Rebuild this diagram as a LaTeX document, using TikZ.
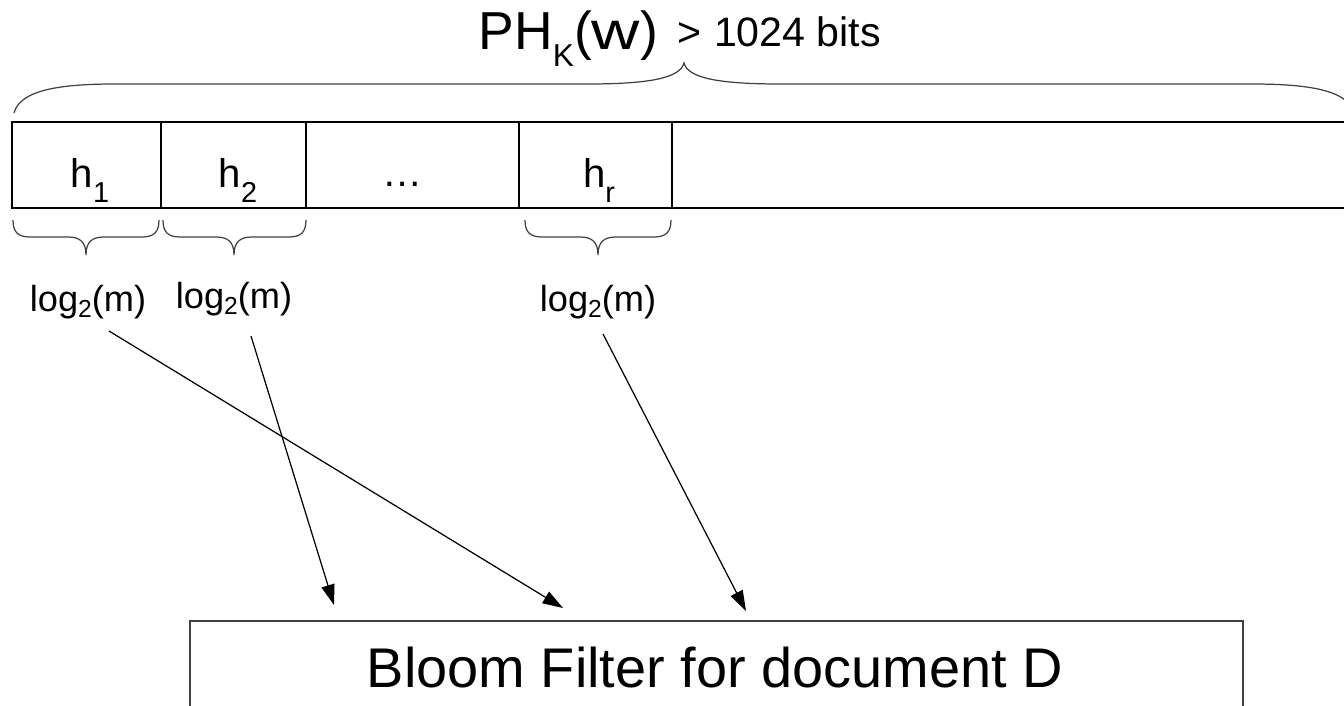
\documentclass[tikz,border=0pt]{standalone}
\usepackage{fontspec}
\setmainfont{Liberation Sans}
\usetikzlibrary{arrows.meta}
\newcommand\fsz[1]{\fontsize{#1}{#1}\selectfont}
\newcommand\lowsub[3]{\raisebox{-#2}{\fsz{#1}#3}}
\tikzset{
  cell/.style={draw=black, line width=0.5pt, minimum height=0.86cm, inner sep=0pt, outer sep=0pt},
  hlab/.style={anchor=base, inner sep=0pt, font=\fsz{11.4pt}},
  loglab/.style={anchor=base, inner sep=0pt, font=\fsz{10.3pt}},
  brc/.style={draw=black!75, line width=0.35pt},
  arr/.style={draw=black, line width=0.35pt, -{Triangle[length=5.8pt,width=3.8pt]}},
  bloombox/.style={draw=black!75, line width=0.55pt, minimum width=10.52cm, minimum height=1.6cm, inner sep=0pt, outer sep=0pt}
}
\begin{document}
\begin{tikzpicture}[x=0.01cm,y=-0.01cm]
\useasboundingbox (0,0) rectangle (1344,706);
\clip (0,0) rectangle (1344,706);
% title
\node[anchor=base west, inner sep=0pt, font=\fsz{15.2pt}] (title) at (478,50) {PH\lowsub{9pt}{4.8pt}{K}(\scalebox{1.25}[1]{w})};
\node[anchor=base west, inner sep=0pt, font=\fsz{11.7pt}] (bits) at (677,46) {>\hspace{0.3em}1024 bits};
% big brace
\draw[brc] (14,113) .. controls (20,90) and (60,84) .. (115,84) -- (587,84)
  .. controls (650,84) and (680,78) .. (684,63)
  .. controls (688,78) and (718,84) .. (781,84) -- (1252,84)
  .. controls (1308,84) and (1348,90) .. (1354,113);
% register cells
\node[cell, minimum width=1.49cm] (c1) at (86.5,165) {};
\node[cell, minimum width=1.45cm] (c2) at (233.5,165) {};
\node[cell, minimum width=2.13cm] (c3) at (412.5,165) {};
\node[cell, minimum width=1.53cm] (cr) at (595.5,165) {};
\node[cell, minimum width=6.84cm] (crest) at (1014,165) {};
\node[hlab] (h1) at (90,188) {h\lowsub{8.2pt}{4.2pt}{1}};
\node[hlab] (h2) at (238,188) {h\lowsub{8.2pt}{4.2pt}{2}};
\node[hlab] (hdots) at (403,186) {…};
\node[hlab] (hr) at (599,188) {h\lowsub{8.2pt}{4.2pt}{r}};
% small braces
\draw[brc] (13,220) .. controls (13,232) and (18,237) .. (30,237) -- (68,237)
  .. controls (80,237) and (86,242) .. (86,255)
  .. controls (86,242) and (92,237) .. (104,237) -- (142,237)
  .. controls (154,237) and (159,232) .. (159,220);
\draw[brc] (163,220) .. controls (163,232) and (168,237) .. (180,237) -- (216,237)
  .. controls (228,237) and (234,242) .. (234,255)
  .. controls (234,242) and (240,237) .. (252,237) -- (289,237)
  .. controls (301,237) and (306,232) .. (306,220);
\draw[brc] (525,220) .. controls (525,232) and (530,237) .. (542,237) -- (580,237)
  .. controls (592,237) and (598,242) .. (598,255)
  .. controls (598,242) and (604,237) .. (616,237) -- (654,237)
  .. controls (666,237) and (671,232) .. (671,220);
% log labels
\node[loglab] (l1) at (88,311) {log\lowsub{7pt}{1.8pt}{2}(m)};
\node[loglab] (l2) at (234,308) {log\lowsub{7pt}{1.8pt}{2}(m)};
\node[loglab] (lr) at (598,311) {log\lowsub{7pt}{1.8pt}{2}(m)};
% bloom filter
\node[bloombox, anchor=north west] (bloom) at (190,621) {};
\node[anchor=base, inner sep=0pt, font=\fsz{15.9pt}] (bloomlab) at (715,687) {Bloom Filter for document D};
% arrows
\coordinate (s1) at (109,331);
\coordinate (s2) at (251,336);
\coordinate (sr) at (603,334);
\coordinate (e1) at (563,608);
\coordinate (e2) at (334,605);
\coordinate (er) at (746,611);
\draw[arr] (s1) -- (e1);
\draw[arr] (s2) -- (e2);
\draw[arr] (sr) -- (er);
\end{tikzpicture}
\end{document}
